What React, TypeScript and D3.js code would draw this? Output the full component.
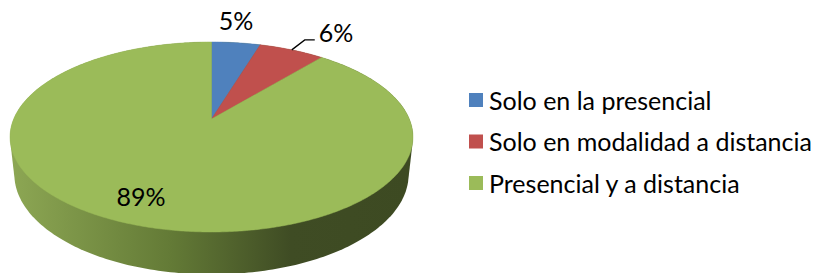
import React, { useRef, useEffect } from 'react';
import * as d3 from 'd3';

const categories = ['Solo en la presencial', 'Solo en modalidad a distancia', 'Presencial y a distancia'];
const values = [4.7, 6.3, 89];
const colors = ['#4F81BD', '#C0504D', '#9BBB59'];

// layout of the 3d pie (perspective camera)
const W = 814;
const H = 273;
const cx = 211.5;
const cy = 119;
const S = 197.8;
const tilt = Math.asin(0.463);
const D = 4.68;
const thick = 0.215;

const project = (X: number, Y: number, Z: number): [number, number] => {
    const v = Y * Math.sin(tilt) - Z * Math.cos(tilt);
    const d = Y * Math.cos(tilt) + Z * Math.sin(tilt);
    const k = D / (D - d);
    return [cx + S * X * k, cy + S * v * k];
};
const rim = (a: number, r = 1, z = 0) => project(r * Math.sin(a), -r * Math.cos(a), z);

// label placement: r = radius on the top face, dx/dy nudge, leader = elbow line
const labelLayout = [
    { r: 1.3, dx: -6, dy: -3 },
    { r: 1.0, leader: true },
    { r: 0.8, dx: -8, dy: -2 },
];

const font = 'Lato, "Open Sans", sans-serif';
const fontSize = '25px';

const App = () => {
    const svgRef = useRef<SVGSVGElement>(null);

    useEffect(() => {
        const svg = d3.select(svgRef.current);
        svg.selectAll('*').remove();

        const total = d3.sum(values);
        const pie = d3.pie<number>().sort(null).value((d) => d);
        const arcs = pie(values);

        const defs = svg.append('defs');
        const grad = defs.append('linearGradient')
            .attr('id', 'sideGrad')
            .attr('gradientUnits', 'userSpaceOnUse')
            .attr('x1', cx - S).attr('x2', cx + S)
            .attr('y1', 0).attr('y2', 0);
        grad.append('stop').attr('offset', 0).attr('stop-color', '#8ca653');
        grad.append('stop').attr('offset', 0.4).attr('stop-color', '#637a36');
        grad.append('stop').attr('offset', 0.7).attr('stop-color', '#3f4c24');
        grad.append('stop').attr('offset', 1).attr('stop-color', '#3d4a22');

        // side wall: hull of top and bottom rims
        const pts: [number, number][] = [];
        for (let i = 0; i < 360; i++) {
            const a = (i / 360) * Math.PI * 2;
            pts.push(rim(a, 1, 0));
            pts.push(rim(a, 1, -thick));
        }
        const hull = d3.polygonHull(pts) || [];
        svg.append('path')
            .attr('d', 'M' + hull.map((p) => p.join(',')).join('L') + 'Z')
            .attr('fill', 'url(#sideGrad)');

        // top face slices
        const line = d3.line();
        svg.selectAll('.slice')
            .data(arcs)
            .enter()
            .append('path')
            .attr('class', 'slice')
            .attr('d', (d) => {
                const p: [number, number][] = [project(0, 0, 0)];
                const n = Math.max(2, Math.ceil((d.endAngle - d.startAngle) / 0.01));
                for (let i = 0; i <= n; i++) {
                    p.push(rim(d.startAngle + (d.endAngle - d.startAngle) * i / n));
                }
                return line(p) + 'Z';
            })
            .attr('fill', (d, i) => colors[i])
            .attr('stroke', (d, i) => colors[i])
            .attr('stroke-width', 0.5);

        // data labels
        arcs.forEach((d, i) => {
            const lay: any = labelLayout[i];
            const mid = (d.startAngle + d.endAngle) / 2;
            const txt = Math.round((values[i] / total) * 100) + '%';
            const [px, py] = rim(mid, lay.r);
            if (lay.leader) {
                const elbow: [number, number] = [px + 13, py - 10];
                const end: [number, number] = [elbow[0] + 10, elbow[1]];
                svg.append('path')
                    .attr('d', line([[px, py], elbow, end]))
                    .attr('fill', 'none')
                    .attr('stroke', '#000')
                    .attr('stroke-width', 1.3);
                svg.append('text')
                    .attr('x', end[0] + 4)
                    .attr('y', end[1] - 7)
                    .attr('dy', '0.35em')
                    .attr('text-anchor', 'start')
                    .style('font-family', font)
                    .style('font-size', fontSize)
                    .text(txt);
            } else {
                svg.append('text')
                    .attr('x', px + lay.dx)
                    .attr('y', py + lay.dy)
                    .attr('dy', '0.35em')
                    .attr('text-anchor', 'middle')
                    .style('font-family', font)
                    .style('font-size', fontSize)
                    .text(txt);
            }
        });

        // legend
        const legend = svg.append('g').attr('transform', 'translate(469,93)');
        const rows = legend.selectAll('g')
            .data(categories)
            .enter()
            .append('g')
            .attr('transform', (d, i) => `translate(0,${i * 41.5})`);
        rows.append('rect')
            .attr('width', 14)
            .attr('height', 14)
            .attr('fill', (d, i) => colors[i]);
        rows.append('text')
            .attr('x', 20)
            .attr('y', 8)
            .attr('dy', '0.35em')
            .style('font-family', font)
            .style('font-size', fontSize)
            .text((d) => d);
    }, []);

    return (
        <svg
            ref={svgRef}
            width={W}
            height={H}
            style={{ position: 'absolute', left: 0, top: 0, background: '#fff' }}
        ></svg>
    );
};

export default App;
